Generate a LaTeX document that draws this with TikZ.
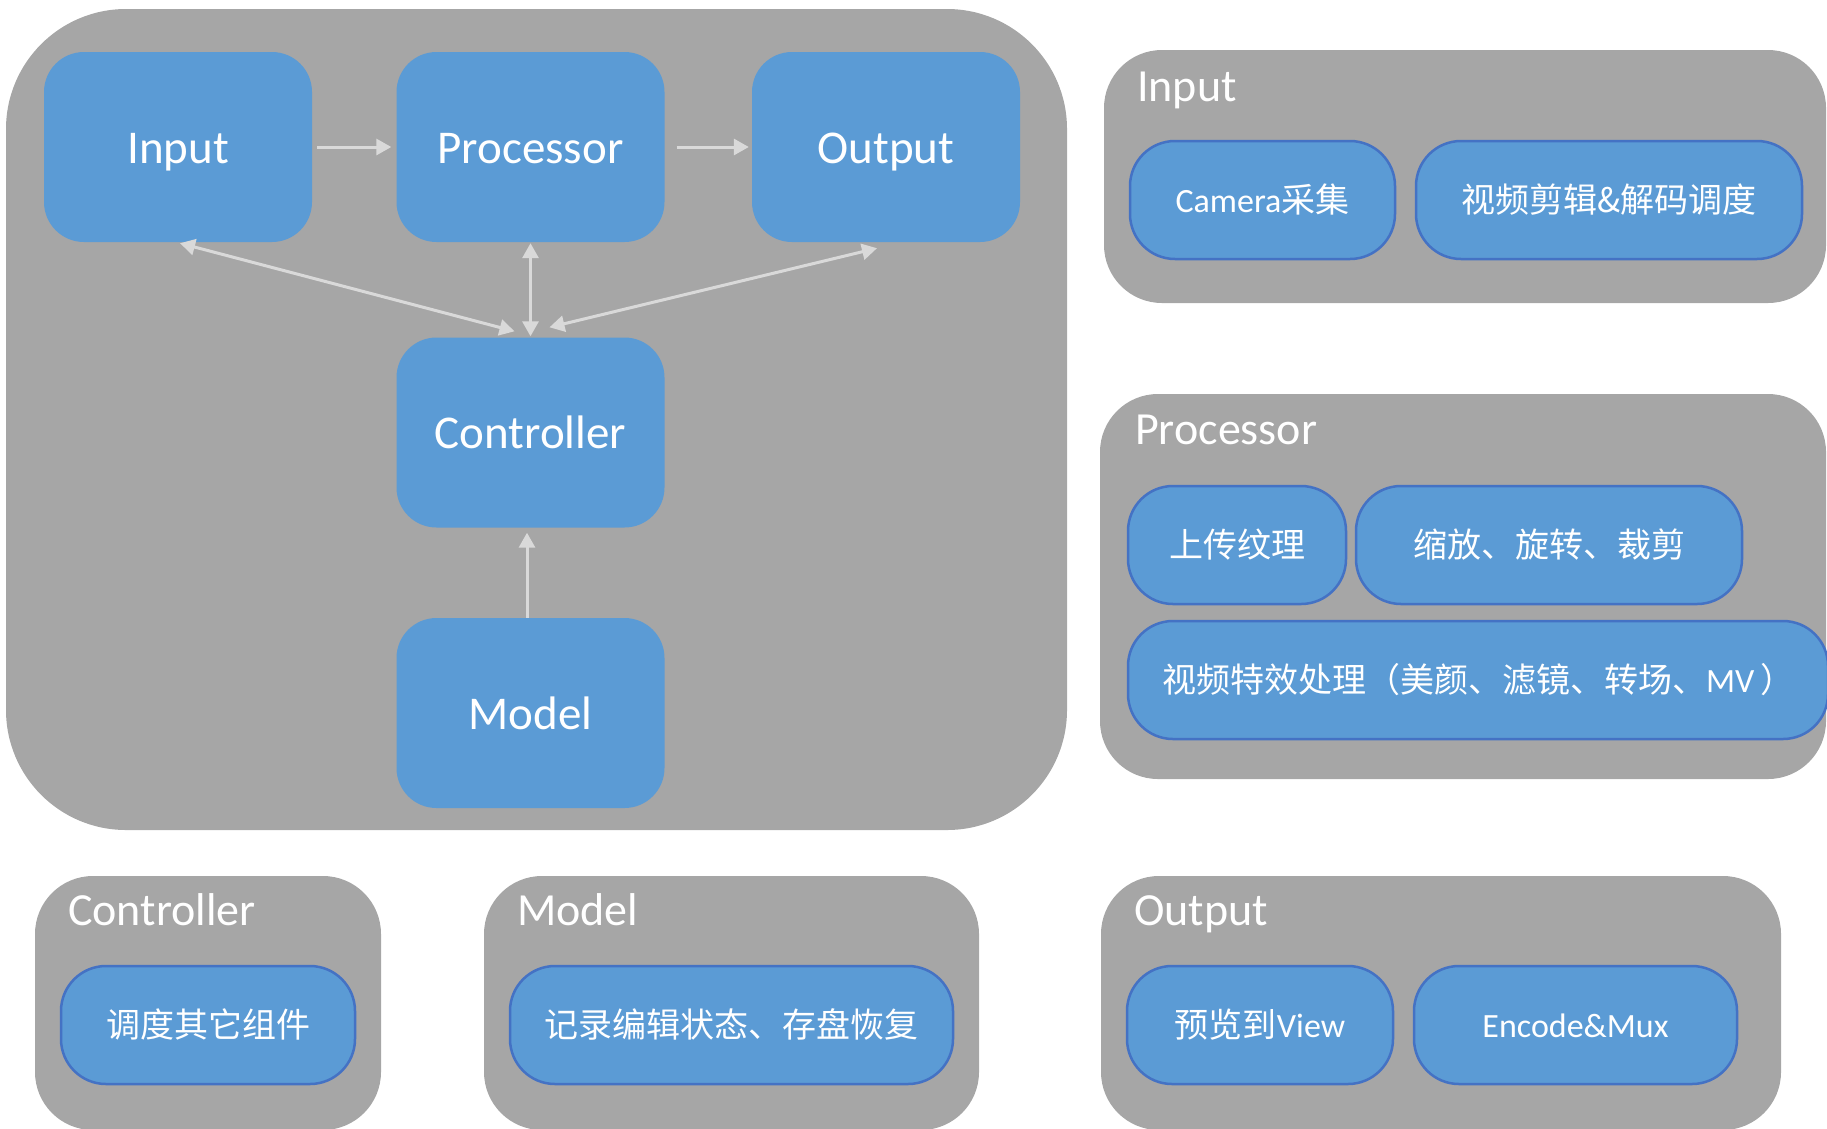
\documentclass[tikz,border=0pt]{standalone}
\usepackage{fontspec}
\setmainfont{Carlito}
\newfontfamily\cjk{Noto Sans CJK SC}
\usetikzlibrary{arrows.meta}
\definecolor{panelgray}{HTML}{A6A6A6}
\definecolor{boxblue}{HTML}{5B9BD5}
\definecolor{edgeblue}{HTML}{4472C4}
\definecolor{linkgray}{HTML}{D9D9D9}
\begin{document}
\begin{tikzpicture}[x=1pt,y=-1pt,
  panel/.style={fill=panelgray, inner sep=0pt, rounded corners=58pt},
  mainbox/.style={fill=boxblue, rounded corners=40pt, minimum width=268pt,
    minimum height=190pt, inner sep=0pt, text=white,
    text height=32pt, text depth=0pt,
    font=\fontsize{47}{56}\selectfont},
  subbox/.style={fill=boxblue, draw=edgeblue, line width=2.5pt,
    rounded corners=45pt, minimum height=118pt, inner sep=0pt, text=white,
    text height=24pt, text depth=0pt,
    font=\fontsize{34}{40}\selectfont},
  paneltitle/.style={anchor=base west, text=white, inner sep=0pt,
    font=\fontsize{46}{55}\selectfont},
  tip/.tip={Triangle[length=15pt,width=16pt]},
  link/.style={draw=linkgray, line width=3pt, -tip},
  dlink/.style={draw=linkgray, line width=3pt, tip-tip}
]
\useasboundingbox (0,0) rectangle (1827,1128);
\clip (0,0) rectangle (1827,1128);

% overview panel with the five main components
\node[panel, rounded corners=120pt, minimum width=1061pt, minimum height=821pt] (overview) at (536.5,419.5) {};
\node[mainbox] (in)    at (178,147)   {Input};
\node[mainbox] (proc)  at (530.5,147) {Processor};
\node[mainbox] (out)   at (886,147)   {Output};
\node[mainbox] (ctrl)  at (530.5,432.5) {Controller};
\node[mainbox] (model) at (530.5,713) {Model};

\draw[link, shorten <=5pt, shorten >=5pt] (in) -- (proc);
\draw[link, shorten <=12pt, shorten >=3pt] (proc) -- (out);
\draw[dlink] ([xshift=2pt,yshift=-1pt]in.south) -- ([xshift=-16pt,yshift=6pt]ctrl.north);
\draw[dlink] ([yshift=-1pt]proc.south) -- ([yshift=1pt]ctrl.north);
\draw[dlink] ([xshift=19pt,yshift=10pt]ctrl.north) -- ([xshift=-9pt,yshift=-6pt]out.south);
\draw[link] ([xshift=-3.5pt]model.north) -- ([xshift=-3.5pt,yshift=-5pt]ctrl.south);

% Input details
\node[panel, minimum width=722pt, minimum height=253pt] (pin) at (1465,176.5) {};
\node[paneltitle] (tin) at (1137,101) {Input};
\node[subbox, minimum width=265pt] (cam) at (1262.5,200) {Camera{\cjk 采集}};
\node[subbox, minimum width=386pt] (dec) at (1609,200) {\cjk 视频剪辑\&解码调度};

% Processor details
\node[panel, minimum width=726pt, minimum height=385pt] (pproc) at (1463,586.5) {};
\node[paneltitle] (tproc) at (1135,444) {Processor};
\node[subbox, minimum width=218pt] (upload) at (1237,545) {\cjk 上传纹理};
\node[subbox, minimum width=386pt] (xform) at (1549,545) {\cjk 缩放、旋转、裁剪};
\node[subbox, minimum width=700pt] (fx) at (1478,680) {{\cjk 视频特效处理（美颜、滤镜、转场、}MV\,{\cjk ）}};

% Controller details
\node[panel, minimum width=346pt, minimum height=254pt] (pctrl) at (208,1003) {};
\node[paneltitle] (tctrl) at (68,925) {Controller};
\node[subbox, minimum width=294pt] (sched) at (208,1025) {\cjk 调度其它组件};

% Model details
\node[panel, minimum width=495pt, minimum height=254pt] (pmodel) at (731.5,1003) {};
\node[paneltitle] (tmodel) at (517,925) {Model};
\node[subbox, minimum width=443pt] (rec) at (731.5,1025) {\cjk 记录编辑状态、存盘恢复};

% Output details
\node[panel, minimum width=680pt, minimum height=254pt] (pout) at (1441,1003) {};
\node[paneltitle] (tout) at (1134,925) {Output};
\node[subbox, minimum width=266pt] (view) at (1260,1025) {{\cjk 预览到}View};
\node[subbox, minimum width=323pt] (enc) at (1575.5,1025) {Encode\&Mux};
\end{tikzpicture}
\end{document}
